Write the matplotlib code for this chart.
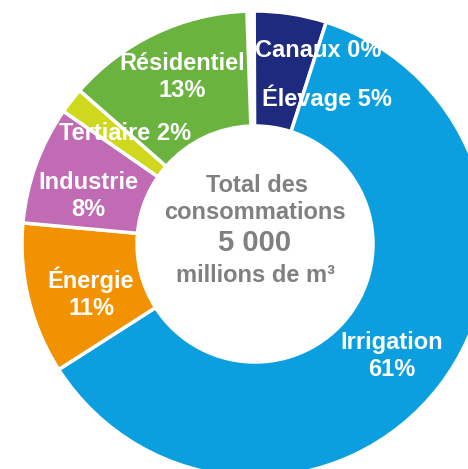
import matplotlib.pyplot as plt

plt.rcParams['font.family'] = ['Liberation Sans', 'DejaVu Sans']

# shares (order: clockwise from the top)
secteurs = ['Canaux', 'Élevage', 'Irrigation', 'Énergie', 'Industrie', 'Tertiaire', 'Résidentiel']
parts = [0.5, 5.0, 61.0, 10.5, 8.2, 1.8, 13.0]
couleurs = ['#ffffff', '#1d2a7e', '#0b9fe0', '#f39200', '#c06bb4', '#cfd81c', '#6ab33e']

# labels as printed on the chart
etiquettes = ['Canaux 0%', 'Élevage 5%', 'Irrigation\n61%', 'Énergie\n11%',
              'Industrie\n8%', 'Tertiaire 2%', 'Résidentiel\n13%']
centre_txt = ['Total des', 'consommations', '5 000', 'millions de m³']

W, H = 468, 469
fig = plt.figure(figsize=(W / 100, H / 100), dpi=100)
ax = fig.add_axes([0, 0, 1, 1])

cx, cy = 255, H - 244
R, r = 233, 118

ax.pie(parts, colors=couleurs, startangle=92, counterclock=False,
       center=(cx, cy), radius=R, frame=True,
       wedgeprops=dict(width=R - r, edgecolor='white', linewidth=2.5))
ax.set_xlim(0, W)
ax.set_ylim(0, H)
ax.set_aspect('equal')
ax.axis('off')

def txt(x, y, s, size=17, color='white'):
    ax.text(x, H - y, s, ha='center', va='center', fontsize=size,
            fontweight='bold', color=color, linespacing=1.2)

# label positions in pixels from the top-left corner
txt(318, 50, etiquettes[0])
txt(327, 98, etiquettes[1])
txt(392, 356, etiquettes[2])
txt(91, 293, etiquettes[3])
txt(88, 196, etiquettes[4])
txt(125, 133, etiquettes[5])
txt(182, 77, etiquettes[6])

gris = '#808080'
txt(257, 185, centre_txt[0], color=gris)
txt(255, 212, centre_txt[1], color=gris)
txt(255, 243, centre_txt[2], size=21, color=gris)
txt(255, 275, centre_txt[3], color=gris)

fig.savefig('out.png', dpi=100)
